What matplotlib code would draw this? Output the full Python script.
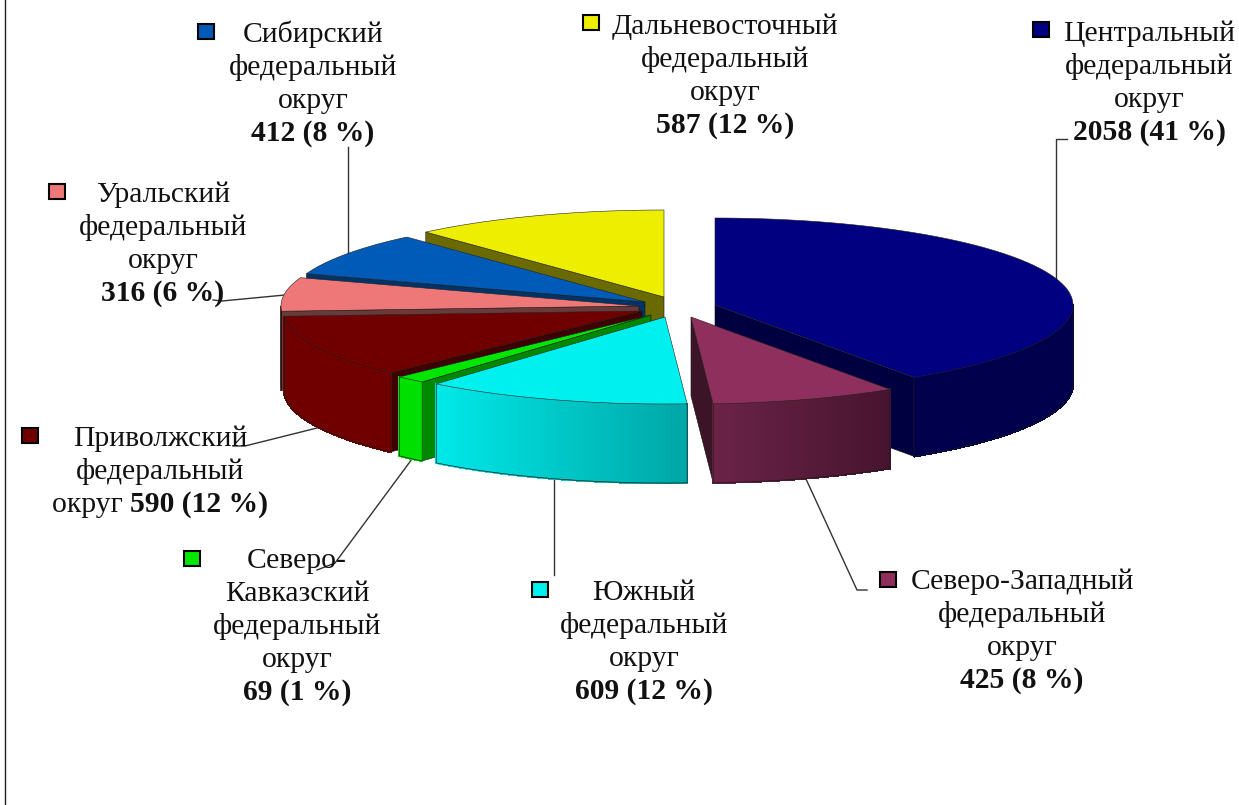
import matplotlib
matplotlib.use("Agg")
import matplotlib.pyplot as plt
import numpy as np

plt.rcParams['font.family'] = ['Liberation Serif', 'DejaVu Serif']

# data, clockwise from 12 o'clock
okruga = ["Центральный", "Северо-Западный", "Южный", "Северо-Кавказский",
          "Приволжский", "Уральский", "Сибирский", "Дальневосточный"]
znach = [2058, 425, 609, 69, 590, 316, 412, 587]

# colours: top, wall left->right ends, cut face
verh = ["#000080", "#8e2f5e", "#00f0f0", "#00e600", "#700000", "#ee7878", "#005ab8", "#eeee00"]
stena_l = ["#00004c", "#6a2347", "#00e8e8", "#00e000", "#700000", "#6a3a3a", "#003468", "#6a6a00"]
stena_r = ["#00004c", "#47142f", "#00a6a6", "#00e000", "#700000", "#6a3a3a", "#003468", "#6a6a00"]
srez = ["#000040", "#3c1428", "#008080", "#008800", "#3e0000", "#6a3a3a", "#003468", "#6a6a00"]

# exploded centres of the slices on the picture
cx = [715, 691, 665, 651, 642, 639, 645, 664]
cy = [305, 317, 317, 315, 311, 306, 302, 297]
rx, ry, h = 358, 87, 79

# label lines, first baseline, centre
podpisi = [
    (["Центральный", "федеральный", "округ"], 1149, 41),
    (["Северо-Западный", "федеральный", "округ"], 1022, 589),
    (["Южный", "федеральный", "округ"], 644, 600),
    (["Северо-", "Кавказский", "федеральный", "округ"], 297, 568),
    (["Приволжский", "федеральный"], 160, 446),
    (["Уральский", "федеральный", "округ"], 163, 202),
    (["Сибирский", "федеральный", "округ"], 313, 42),
    (["Дальневосточный", "федеральный", "округ"], 725, 34),
]
kluchi = [(1033, 22), (880, 572), (532, 582), (184, 551), (22, 428), (49, 184), (198, 24), (583, 15)]
vynoski = [
    [(1056, 280), (1056, 139), (1067, 139)],
    [(806, 479), (857, 590), (867, 590)],
    [(554, 478), (554, 575)],
    [(412, 459), (335, 563), (317, 570)],
    [(317, 428), (245, 446), (233, 446)],
    [(285, 295), (222, 301), (213, 300)],
    [(348, 254), (348, 147)],
]

dolya = np.array(znach) / sum(znach)
ugly = np.concatenate([[0], np.cumsum(dolya) * 360])


def tochki(i, a):
    a = np.radians(a)
    return cx[i] + rx * np.sin(a), cy[i] - ry * np.cos(a)


def smes(c1, c2, t):
    c1 = np.array(matplotlib.colors.to_rgb(c1))
    c2 = np.array(matplotlib.colors.to_rgb(c2))
    return c1 + (c2 - c1) * t


fig = plt.figure(figsize=(12.39, 8.05), dpi=100)
ax = fig.add_axes([0, 0, 1, 1])
ax.set_xlim(0, 1239)
ax.set_ylim(805, 0)
ax.axis("off")

ax.plot([5, 5], [0, 805], color="#222222", lw=1)

for v in vynoski:
    ax.plot([p[0] for p in v], [p[1] for p in v], color="#333333", lw=1, zorder=1)

# back to front
poryadok = [7, 6, 5, 4, 3, 2, 0, 1]
for z, i in enumerate(poryadok):
    a, b = ugly[i], ugly[i + 1]
    x0, y0 = cx[i], cy[i]
    zo = 2 + z

    # cut faces that look to the viewer
    for ug, vidno in ((a, np.sin(np.radians(a)) < 0), (b, np.sin(np.radians(b)) > 0)):
        if vidno:
            x1, y1 = tochki(i, ug)
            ax.fill([x0, x1, x1, x0], [y0, y1, y1 + h, y0 + h], facecolor=srez[i],
                    edgecolor="#111111", lw=0.4, zorder=zo)

    # outer wall, front half of the ellipse only
    a1, b1 = max(a, 90), min(b, 270)
    if b1 > a1:
        uu = np.linspace(a1, b1, 61)
        xx, yy = tochki(i, uu)
        xmin, xmax = xx.min(), xx.max()
        for k in range(len(uu) - 1):
            t = ((xx[k] + xx[k + 1]) / 2 - xmin) / (xmax - xmin)
            col = smes(stena_l[i], stena_r[i], t)
            ax.fill([xx[k], xx[k + 1], xx[k + 1], xx[k]],
                    [yy[k], yy[k + 1], yy[k + 1] + h, yy[k] + h],
                    facecolor=col, edgecolor=col, lw=1, antialiased=False, zorder=zo)
        ax.plot(np.r_[xx[0], xx, xx[-1]], np.r_[yy[0], yy + h, yy[-1]],
                color="#1a1a1a", lw=0.5, zorder=zo)

    # top
    uu = np.linspace(a, b, 80)
    xx, yy = tochki(i, uu)
    ax.fill(np.r_[x0, xx], np.r_[y0, yy], facecolor=verh[i], edgecolor="#222222", lw=0.4, zorder=zo)

# legend keys
for i, (kx, ky) in enumerate(kluchi):
    ax.add_patch(plt.Rectangle((kx, ky), 16, 15, facecolor=verh[i], edgecolor="black", lw=1.5, zorder=20))

# labels
sh = 21.3
shag = 33
r = fig.canvas.get_renderer()
for i, (stroki, xc, yb) in enumerate(podpisi):
    for n, s in enumerate(stroki):
        ax.text(xc, yb + n * shag, s, ha="center", va="baseline", fontsize=sh, color="#111111", zorder=21)
    val = f"{znach[i]} ({round(dolya[i] * 100)} %)"
    yl = yb + len(stroki) * shag
    if okruga[i] == "Приволжский":
        # last line is mixed: plain word, then bold value
        t1 = ax.text(0, yl, "округ ", fontsize=sh, va="baseline", ha="left", color="#111111", zorder=21)
        t2 = ax.text(0, yl, val, fontsize=sh, va="baseline", ha="left", fontweight="bold", color="#111111", zorder=21)
        w1 = t1.get_window_extent(r).width
        w2 = t2.get_window_extent(r).width
        t1.set_x(xc - (w1 + w2) / 2)
        t2.set_x(xc - (w1 + w2) / 2 + w1)
    else:
        ax.text(xc, yl, val, ha="center", va="baseline", fontsize=sh, fontweight="bold", color="#111111", zorder=21)

fig.savefig("out.png", dpi=100)
